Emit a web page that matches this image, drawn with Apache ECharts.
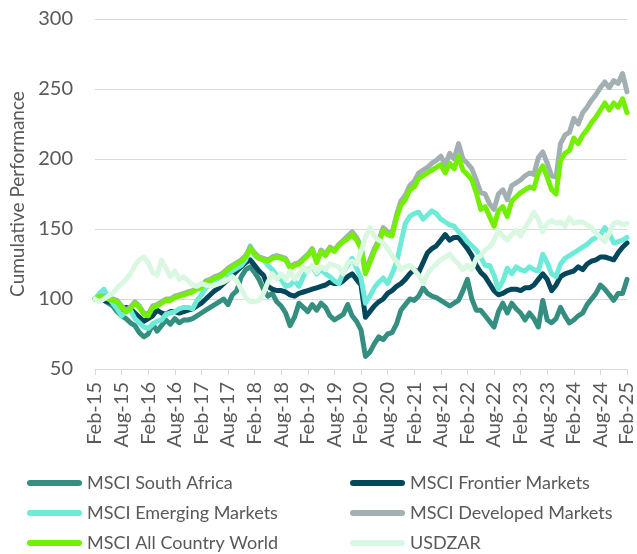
<!DOCTYPE html>
<html><head><meta charset="utf-8">
<script src="https://cdn.jsdelivr.net/npm/echarts@6/dist/echarts.min.js"></script>
<style>html,body{margin:0;padding:0;background:#fff}#c{width:637px;height:554px}</style>
</head><body><div id="c"></div>
<script>
// Monthly categories Feb-15 .. Feb-25
const monthNames = ['Jan','Feb','Mar','Apr','May','Jun','Jul','Aug','Sep','Oct','Nov','Dec'];
const categories = [];
for (let y = 2015, mo = 1; categories.length < 121; ) {
  categories.push(monthNames[mo] + '-' + String(y).slice(2));
  mo++; if (mo === 12) { mo = 0; y++; }
}
const yTicks = [50, 100, 150, 200, 250, 300];

const southAfrica = [
 100,101,99,97,95,91,88,86,83,81,76,73,
 75,82,77,81,85,82,86,83,85,85,86,88,
 90,92,94,96,98,100,96,103,106,116,121,123,
 119,114,107,102,104,98,95,90,81,87,97,94,
 91,96,92,97,94,88,85,87,89,96,88,84,
 78,59,62,68,73,71,75,76,82,92,96,100,
 99,102,108,104,102,101,99,97,95,97,99,106,
 114,100,92,92,88,84,80,91,97,90,97,93,
 90,85,90,86,80,99,85,83,86,94,88,83,
 85,88,90,96,100,104,110,107,103,99,104,104,
 114];
const frontier = [
 100,101,99,98,97,95,92,94,93,90,87,84,
 86,88,92,90,89,91,91,90,91,92,93,95,
 97,100,103,106,108,111,114,117,120,123,126,128,
 124,120,117,109,107,106,106,105,103,102,104,105,
 106,107,108,109,110,112,111,111,113,116,118,114,
 110,87,91,95,98,100,104,106,109,111,114,118,
 121,119,126,133,136,138,142,146,142,144,144,140,
 136,131,124,119,116,111,106,103,104,106,107,107,
 106,108,108,110,114,118,114,106,110,116,118,119,
 120,123,121,125,127,128,130,130,129,128,133,137,
 140];
const emerging = [
 100,104,107,101,97,93,88,91,92,86,83,80,
 79,82,84,85,89,90,91,93,94,94,93,99,
 103,108,110,113,115,117,118,120,122,124,128,138,
 131,129,128,124,121,117,114,109,110,113,109,116,
 121,123,118,121,118,116,113,111,119,124,129,122,
 115,97,102,108,112,115,111,118,126,140,154,159,
 161,162,157,160,163,161,157,155,153,152,148,145,
 141,138,135,130,124,124,117,107,113,122,118,123,
 121,120,123,121,120,132,126,118,116,125,129,131,
 133,135,137,139,142,144,146,151,147,140,141,142,
 144];
const developed = [
 100,102,102,101,100,99,95,92,94,98,95,90,
 89,95,96,98,100,100,102,103,104,105,106,108,
 109,113,114,116,117,119,122,124,126,128,131,137,
 133,130,129,128,130,131,130,129,123,125,126,129,
 132,136,127,135,132,137,135,139,142,145,148,144,
 138,120,128,136,142,151,148,147,160,170,174,181,
 184,190,192,194,197,199,202,196,204,200,211,200,
 197,193,185,176,175,168,164,175,178,171,181,183,
 185,188,190,189,201,205,197,188,187,211,217,219,
 229,225,233,237,242,246,251,255,251,256,254,261,
 248];
const acwi = [
 100,102,101,100,99,98,94,91,93,97,94,89,
 88,94,95,97,99,99,101,102,103,104,105,107,
 108,112,113,115,116,118,121,123,125,127,130,136,
 132,129,128,127,129,130,129,128,122,124,125,128,
 131,135,126,134,131,136,134,138,141,143,146,142,
 136,118,126,134,140,149,146,145,158,167,171,178,
 180,186,188,190,192,194,196,190,197,193,202,192,
 189,185,176,164,166,159,152,163,166,159,170,173,
 176,178,180,179,190,195,187,178,175,199,204,206,
 215,211,217,221,226,230,235,240,235,240,237,243,
 233];
const usdzar = [
 100,98,100,102,104,108,111,114,118,124,128,130,
 126,119,117,128,122,116,120,114,116,113,110,109,
 111,110,109,110,111,112,114,116,113,107,101,98,
 98,99,104,112,118,114,118,114,120,114,118,123,
 119,124,119,123,121,125,124,123,118,126,127,125,
 134,144,151,145,142,140,136,131,127,121,123,124,
 121,117,111,118,122,125,128,130,132,128,125,121,
 124,121,129,131,135,137,142,149,145,142,146,149,
 145,151,156,162,157,148,154,156,154,155,152,158,
 154,155,155,153,151,147,144,141,147,154,155,153,
 154];

const seriesNames = ['MSCI South Africa','MSCI Frontier Markets','MSCI Emerging Markets','MSCI Developed Markets','MSCI All Country World','USDZAR'];
const seriesData = [southAfrica, frontier, emerging, developed, acwi, usdzar];
const colors = ['#358F80','#04475C','#6EEBD8','#A2AFB3','#72F000','#DAF7E2'];

const FONT = 'Lato';
const TXT = '#595959';
const pill = 'path://M3,0 L52,0 A3,3 0 0 1 52,6 L3,6 A3,3 0 0 1 3,0 Z';

const chart = echarts.init(document.getElementById('c'), null, {renderer:'canvas'});
chart.setOption({
  animation: false,
  color: colors,
  grid: { left: 95, top: 19, width: 534, height: 350, containLabel: false },
  xAxis: {
    type: 'category', data: categories, boundaryGap: false,
    axisLine: { lineStyle: { color: '#D9D9D9', width: 1 } },
    axisTick: { interval: 5, length: 6, lineStyle: { color: '#D9D9D9' } },
    axisLabel: { interval: 5, rotate: 90, margin: 13, color: TXT, fontFamily: FONT, fontSize: 20 },
    splitLine: { show: false }
  },
  yAxis: {
    type: 'value', min: yTicks[0], max: yTicks[yTicks.length-1], interval: 50,
    name: 'Cumulative Performance', nameLocation: 'middle', nameGap: 66,
    nameTextStyle: { color: TXT, fontFamily: FONT, fontSize: 19 },
    axisLine: { show: false }, axisTick: { show: false },
    axisLabel: { margin: 22, color: TXT, fontFamily: FONT, fontSize: 20 },
    splitLine: { lineStyle: { color: '#D9D9D9', width: 1 } }
  },
  legend: [
    { data: [seriesNames[0], seriesNames[2], seriesNames[4]], orient: 'vertical', left: 27, top: 473,
      padding: 0, itemGap: 10, itemWidth: 55, itemHeight: 6, icon: pill,
      textStyle: { color: TXT, fontFamily: FONT, fontSize: 18, lineHeight: 20 } },
    { data: [seriesNames[1], seriesNames[3], seriesNames[5]], orient: 'vertical', left: 350, top: 473,
      padding: 0, itemGap: 10, itemWidth: 55, itemHeight: 6, icon: pill,
      textStyle: { color: TXT, fontFamily: FONT, fontSize: 18, lineHeight: 20 } }
  ],
  series: seriesNames.map((n, i) => ({
    name: n, type: 'line', data: seriesData[i], showSymbol: false, symbol: 'none',
    lineStyle: { width: 5, color: colors[i], join: 'round', cap: 'round' },
    itemStyle: { color: colors[i] },
    emphasis: { disabled: true }
  }))
});
</script></body></html>
